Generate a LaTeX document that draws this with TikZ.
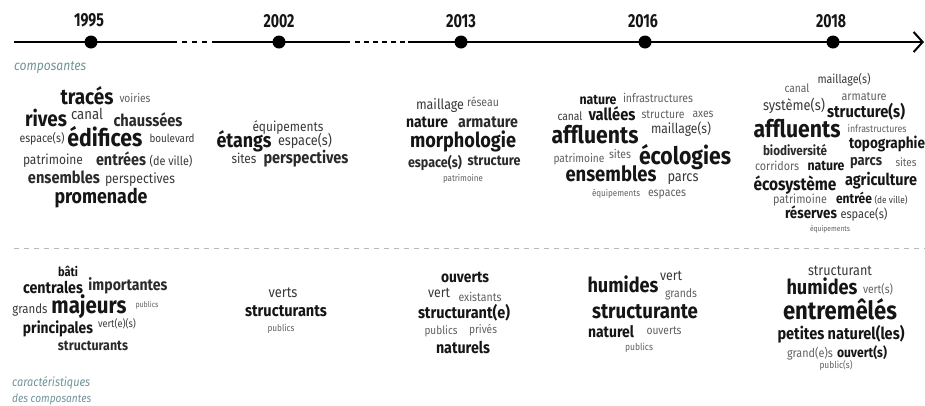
\documentclass[tikz,border=0pt]{standalone}
\usepackage{fontspec}
\setmainfont[FakeStretch=0.88]{Fira Sans}
\usetikzlibrary{arrows.meta}
\definecolor{cb}{HTML}{151515}
\definecolor{cm}{HTML}{2A2A2A}
\definecolor{cr}{HTML}{383838}
\definecolor{cl}{HTML}{606060}
\definecolor{lab}{HTML}{6F9499}
\newcommand{\fs}[1]{\fontsize{#1}{#1}\selectfont}
\newcommand{\wrd}[6]{\node[#1] (#2) at (#3,#4) {\resizebox{#5pt}{!}{#6}};}
\tikzset{
  wd/.style={inner sep=0pt, anchor=base},
  b/.style={wd, text=cb, font=\bfseries\fs{14}},
  m/.style={wd, text=cm, font=\bfseries\fs{14}},
  r/.style={wd, text=cr, font=\fs{14}},
  l/.style={wd, text=cl, font=\fs{14}},
  year/.style={inner sep=0pt, anchor=base, text=cb, font=\bfseries\fs{17}},
  dot/.style={circle, fill=black, inner sep=0pt, minimum size=13pt},
  tl/.style={line width=2.3pt, black},
  lbl/.style={inner sep=0pt, anchor=base west, text=lab, font=\itshape\fs{12}}
}
\begin{document}
\begin{tikzpicture}[x=1pt,y=-1pt]
\useasboundingbox (0,0) rectangle (925,405);
% timeline
\coordinate (tstart) at (14,42);
\coordinate (g1a) at (177,42); \coordinate (g1b) at (212,42);
\coordinate (g2a) at (350,42); \coordinate (g2b) at (408,42);
\coordinate (tend) at (924,42);
\draw[tl] (tstart) -- (g1a);
\draw[tl, dash pattern=on 5pt off 5pt] ([xshift=5pt]g1a) -- ([xshift=-4pt]g1b);
\draw[tl] (g1b) -- (g2a);
\draw[tl, dash pattern=on 5pt off 4pt] ([xshift=5pt]g2a) -- ([xshift=-3pt]g2b);
\draw[tl, -{Straight Barb[length=9pt,width=20pt,line width=2pt]}] (g2b) -- (tend);
\node[dot] (d1) at (91,42) {};
\node[dot] (d2) at (279,42) {};
\node[dot] (d3) at (461,42) {};
\node[dot] (d4) at (645,42) {};
\node[dot] (d5) at (833,42) {};
\node[year] (y1) at (89,26) {\resizebox{30pt}{13pt}{1995}};
\node[year] (y2) at (279,27) {\resizebox{31pt}{13pt}{2002}};
\node[year] (y3) at (461,27) {\resizebox{30pt}{13pt}{2013}};
\node[year] (y4) at (643,27) {\resizebox{30pt}{13pt}{2016}};
\node[year] (y5) at (831,27) {\resizebox{30pt}{13pt}{2018}};
% labels
\node[lbl] (lcomp) at (14,70) {\resizebox{72pt}{!}{composantes}};
\node[lbl] (lcar1) at (12,386) {\resizebox{78pt}{!}{caractéristiques}};
\node[lbl] (lcar2) at (12,402) {\resizebox{79pt}{!}{des composantes}};
% separator
\coordinate (s1) at (14,248); \coordinate (s2) at (925,248);
\draw[gray!55, line width=1pt, dash pattern=on 5pt off 5pt] (s1) -- (s2);
% ---- 1995 top
\wrd{b}{a1}{87}{104}{53}{tracés}
\wrd{l}{a2}{135}{102}{31}{voiries}
\wrd{b}{a3}{46}{126}{42}{rives}
\wrd{r}{a4}{87}{119}{32}{canal}
\wrd{m}{a5}{148}{126}{69}{chaussées}
\wrd{r}{a6}{42}{142}{45}{espace(s)}
\wrd{b}{a7}{105}{146}{75}{édifices}
\wrd{r}{a8}{172}{142}{45}{boulevard}
\wrd{r}{a9}{53}{164}{60}{patrimoine}
\wrd{m}{a10}{121}{165}{50}{entrées}
\wrd{r}{a11}{171}{165}{43}{(de ville)}
\wrd{m}{a12}{64}{183}{72}{ensembles}
\wrd{r}{a13}{140}{183}{70}{perspectives}
\wrd{b}{a14}{101}{203}{93}{promenade}
% ---- 2002 top
\wrd{r}{b1}{288}{131}{71}{équipements}
\wrd{b}{b2}{244}{147}{55}{étangs}
\wrd{r}{b3}{305}{145}{54}{espace(s)}
\wrd{r}{b4}{244}{163}{25}{sites}
\wrd{m}{b5}{306}{163}{85}{perspectives}
% ---- 2013 top
\wrd{r}{c1}{440}{109}{48}{maillage}
\wrd{l}{c2}{483}{106}{32}{réseau}
\wrd{b}{c3}{427}{127}{42}{nature}
\wrd{m}{c4}{488}{127}{60}{armature}
\wrd{b}{c5}{463}{147}{106}{morphologie}
\wrd{m}{c6}{435}{167}{54}{espace(s)}
\wrd{m}{c7}{494}{165}{53}{structure}
\wrd{l}{c8}{463}{181}{40}{patrimoine}
% ---- 2016 top
\wrd{b}{e1}{598}{104}{37}{nature}
\wrd{l}{e2}{658}{102}{70}{infrastructures}
\wrd{r}{e3}{570}{120}{25}{canal}
\wrd{b}{e4}{612}{120}{47}{vallées}
\wrd{l}{e5}{663}{118}{43}{structure}
\wrd{l}{e6}{703}{117}{21}{axes}
\wrd{b}{e7}{595}{143}{87}{affluents}
\wrd{r}{e8}{681}{133}{60}{maillage(s)}
\wrd{l}{e9}{579}{162}{51}{patrimoine}
\wrd{l}{e10}{620}{158}{22}{sites}
\wrd{b}{e11}{685}{164}{92}{écologies}
\wrd{b}{e12}{611}{181}{91}{ensembles}
\wrd{r}{e13}{683}{181}{31}{parcs}
\wrd{l}{e14}{616}{196}{48}{équipements}
\wrd{l}{e15}{667}{196}{38}{espaces}
% ---- 2018 top
\wrd{r}{f1}{844}{83}{53}{maillage(s)}
\wrd{l}{f2}{797}{92}{25}{canal}
\wrd{l}{f3}{864}{100}{45}{armature}
\wrd{r}{f4}{794}{110}{62}{système(s)}
\wrd{b}{f5}{866}{117}{78}{structure(s)}
\wrd{b}{f6}{797}{137}{87}{affluents}
\wrd{l}{f7}{877}{132}{59}{infrastructures}
\wrd{b}{f8}{887}{148}{76}{topographie}
\wrd{m}{f9}{795}{155}{64}{biodiversité}
\wrd{l}{f10}{777}{170}{44}{corridors}
\wrd{b}{f11}{826}{170}{37}{nature}
\wrd{m}{f12}{866}{165}{32}{parcs}
\wrd{l}{f13}{906}{166}{21}{sites}
\wrd{b}{f14}{795}{190}{83}{écosystème}
\wrd{b}{f15}{881}{185}{72}{agriculture}
\wrd{l}{f16}{800}{203}{54}{patrimoine}
\wrd{b}{f17}{854}{203}{36}{entrée}
\wrd{r}{f18}{891}{203}{33}{(de ville)}
\wrd{b}{f19}{811}{218}{52}{réserves}
\wrd{r}{f20}{864}{218}{47}{espace(s)}
\wrd{l}{f21}{830}{231}{40}{équipements}
% ---- 1995 bottom
\wrd{b}{g1}{68}{276}{20}{bâti}
\wrd{b}{g2}{53}{293}{60}{centrales}
\wrd{m}{g3}{128}{290}{79}{importantes}
\wrd{r}{g4}{30}{313}{35}{grands}
\wrd{b}{g5}{89}{313}{75}{majeurs}
\wrd{l}{g6}{147}{307}{23}{publics}
\wrd{b}{g7}{58}{333}{70}{principales}
\wrd{r}{g8}{117}{327}{38}{vert(e)(s)}
\wrd{m}{g9}{93}{350}{70}{structurants}
% ---- 2002 bottom
\wrd{r}{h1}{283}{297}{29}{verts}
\wrd{b}{h2}{286}{316}{82}{structurants}
\wrd{l}{h3}{281}{331}{27}{publics}
% ---- 2013 bottom
\wrd{b}{i1}{465}{282}{48}{ouverts}
\wrd{r}{i2}{439}{297}{22}{vert}
\wrd{l}{i3}{480}{301}{43}{existants}
\wrd{b}{i4}{464}{318}{92}{structurant(e)}
\wrd{l}{i5}{441}{334}{33}{publics}
\wrd{l}{i6}{483}{333}{28}{privés}
\wrd{b}{i7}{463}{353}{54}{naturels}
% ---- 2016 bottom
\wrd{r}{j1}{671}{280}{22}{vert}
\wrd{b}{j2}{623}{292}{71}{humides}
\wrd{l}{j3}{681}{297}{32}{grands}
\wrd{b}{j4}{645}{318}{106}{structurante}
\wrd{b}{j5}{611}{337}{46}{naturel}
\wrd{l}{j6}{664}{334}{35}{ouverts}
\wrd{l}{j7}{639}{350}{28}{publics}
% ---- 2018 bottom
\wrd{r}{k1}{840}{275}{64}{structurant}
\wrd{b}{k2}{822}{294}{71}{humides}
\wrd{l}{k3}{878}{293}{30}{vert(s)}
\wrd{b}{k4}{840}{319}{114}{entremêlés}
\wrd{b}{k5}{841}{339}{127}{petites naturel(les)}
\wrd{l}{k6}{810}{357}{46}{grand(e)s}
\wrd{b}{k7}{862}{357}{50}{ouvert(s)}
\wrd{l}{k8}{836}{368}{33}{public(s)}
\end{tikzpicture}
\end{document}
